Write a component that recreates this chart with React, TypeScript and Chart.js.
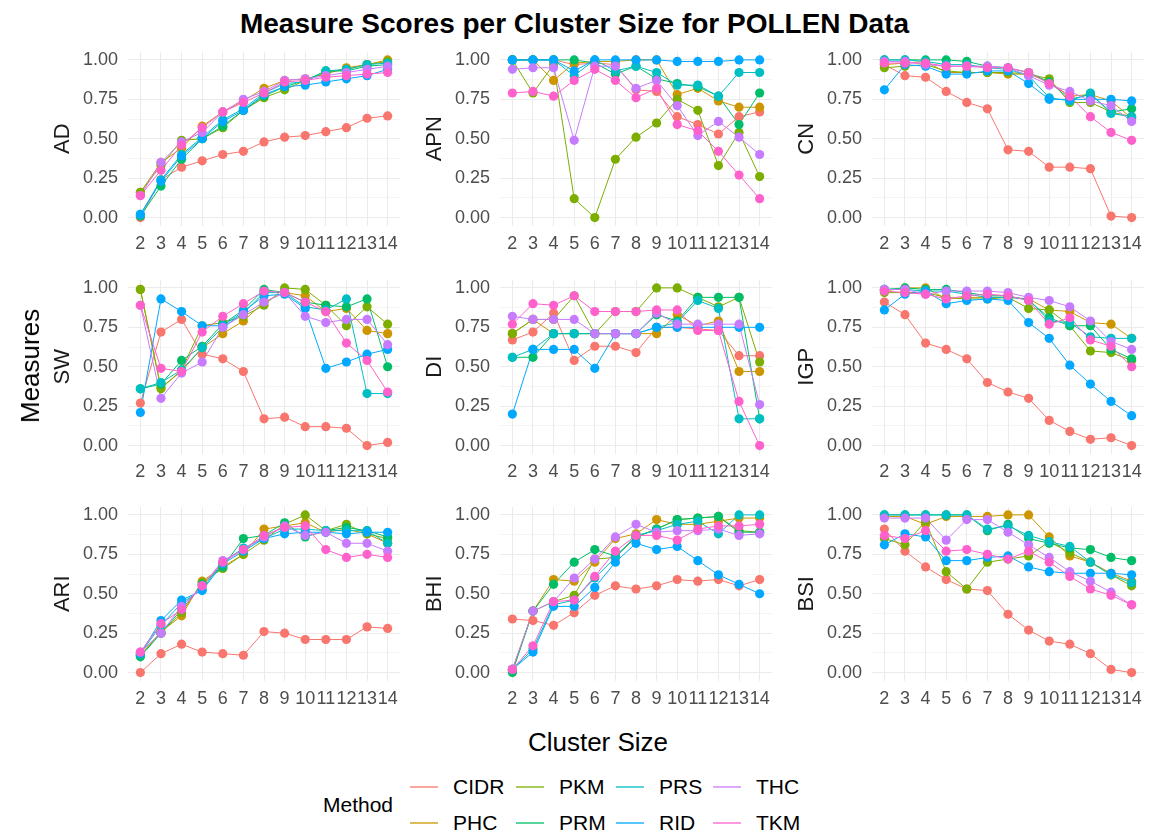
import React, { useEffect, useRef } from 'react';
import { Chart, registerables } from 'chart.js';

Chart.register(...registerables);

const FONT = '"Liberation Sans", Arial, Helvetica, sans-serif';
Chart.defaults.font.family = FONT;

// ---------- data ----------
const clusterSizes = [2, 3, 4, 5, 6, 7, 8, 9, 10, 11, 12, 13, 14];
const methods = ['CIDR', 'PHC', 'PKM', 'PRM', 'PRS', 'RID', 'THC', 'TKM'];
const methodColors = ['#F8766D', '#CD9600', '#7CAE00', '#00BE67', '#00BFC4', '#00A9FF', '#C77CFF', '#FF61CC'];
const measureNames = ['AD', 'APN', 'CN', 'SW', 'DI', 'IGP', 'ARI', 'BHI', 'BSI'];
const yMajorTicks = [0, 0.25, 0.5, 0.75, 1];
const yMinorTicks = [0.125, 0.375, 0.625, 0.875];

// rows in the order of `methods`
const AD = [
  [0.00, 0.24, 0.32, 0.36, 0.40, 0.42, 0.48, 0.51, 0.52, 0.545, 0.57, 0.63, 0.645],
  [0.16, 0.35, 0.44, 0.58, 0.67, 0.74, 0.82, 0.87, 0.88, 0.91, 0.95, 0.97, 1.00],
  [0.16, 0.33, 0.49, 0.50, 0.57, 0.68, 0.76, 0.81, 0.87, 0.92, 0.94, 0.97, 0.99],
  [0.01, 0.20, 0.37, 0.50, 0.58, 0.68, 0.77, 0.83, 0.87, 0.93, 0.93, 0.96, 0.97],
  [0.02, 0.24, 0.40, 0.51, 0.62, 0.69, 0.79, 0.85, 0.86, 0.93, 0.94, 0.97, 0.98],
  [0.02, 0.23, 0.39, 0.50, 0.61, 0.68, 0.78, 0.83, 0.84, 0.86, 0.88, 0.90, 0.94],
  [0.14, 0.35, 0.48, 0.54, 0.67, 0.75, 0.80, 0.87, 0.88, 0.90, 0.92, 0.94, 0.96],
  [0.14, 0.30, 0.46, 0.57, 0.67, 0.73, 0.79, 0.86, 0.87, 0.89, 0.90, 0.91, 0.92],
];
const APN = [
  [1.00, 1.00, 1.00, 0.97, 0.98, 0.97, 0.81, 0.80, 0.64, 0.59, 0.53, 0.64, 0.67],
  [1.00, 1.00, 0.87, 0.98, 0.99, 0.99, 1.00, 1.00, 0.78, 0.82, 0.74, 0.70, 0.70],
  [1.00, 0.79, 0.97, 0.12, 0.00, 0.37, 0.51, 0.60, 0.75, 0.68, 0.33, 0.54, 0.26],
  [1.00, 1.00, 1.00, 1.00, 0.98, 0.91, 0.96, 0.88, 0.85, 0.83, 0.77, 0.59, 0.79],
  [1.00, 1.00, 1.00, 0.90, 1.00, 0.93, 0.96, 0.92, 0.84, 0.84, 0.77, 0.92, 0.92],
  [1.00, 1.00, 1.00, 0.93, 1.00, 1.00, 1.00, 1.00, 0.99, 0.99, 0.99, 1.00, 1.00],
  [0.94, 0.95, 0.95, 0.49, 0.96, 0.96, 0.82, 0.87, 0.71, 0.52, 0.61, 0.51, 0.40],
  [0.79, 0.80, 0.77, 0.87, 0.94, 0.87, 0.76, 0.82, 0.59, 0.55, 0.42, 0.27, 0.12],
];
const CN = [
  [0.97, 0.90, 0.89, 0.80, 0.73, 0.69, 0.43, 0.42, 0.32, 0.32, 0.31, 0.01, 0.00],
  [0.97, 0.98, 0.99, 0.92, 0.92, 0.92, 0.91, 0.91, 0.86, 0.77, 0.78, 0.74, 0.63],
  [0.95, 0.96, 0.97, 0.93, 0.92, 0.92, 0.92, 0.91, 0.88, 0.73, 0.73, 0.67, 0.64],
  [1.00, 1.00, 1.00, 1.00, 0.99, 0.96, 0.95, 0.92, 0.86, 0.75, 0.78, 0.67, 0.69],
  [1.00, 1.00, 0.99, 0.97, 0.97, 0.95, 0.94, 0.90, 0.76, 0.74, 0.79, 0.66, 0.64],
  [0.81, 0.97, 0.96, 0.91, 0.91, 0.93, 0.93, 0.85, 0.75, 0.75, 0.75, 0.75, 0.74],
  [0.99, 0.99, 0.97, 0.96, 0.96, 0.96, 0.95, 0.90, 0.84, 0.80, 0.74, 0.71, 0.61],
  [0.98, 0.98, 0.98, 0.96, 0.96, 0.95, 0.95, 0.92, 0.85, 0.77, 0.64, 0.54, 0.49],
];
const SW = [
  [0.27, 0.72, 0.80, 0.58, 0.55, 0.47, 0.17, 0.18, 0.12, 0.12, 0.11, 0.00, 0.02],
  [0.99, 0.37, 0.47, 0.62, 0.71, 0.79, 0.91, 0.97, 0.95, 0.85, 0.87, 0.73, 0.71],
  [0.99, 0.36, 0.48, 0.76, 0.78, 0.82, 0.89, 1.00, 0.99, 0.89, 0.76, 0.88, 0.77],
  [0.36, 0.39, 0.54, 0.63, 0.77, 0.86, 0.99, 0.97, 0.91, 0.89, 0.88, 0.93, 0.50],
  [0.36, 0.40, 0.48, 0.62, 0.75, 0.84, 0.97, 0.97, 0.88, 0.86, 0.93, 0.33, 0.33],
  [0.21, 0.93, 0.85, 0.76, 0.76, 0.85, 0.95, 0.96, 0.87, 0.49, 0.53, 0.58, 0.61],
  [0.89, 0.30, 0.46, 0.53, 0.75, 0.83, 0.91, 0.97, 0.82, 0.78, 0.80, 0.80, 0.64],
  [0.89, 0.49, 0.47, 0.72, 0.82, 0.90, 0.98, 0.97, 0.91, 0.85, 0.65, 0.54, 0.34],
];
const DI = [
  [0.67, 0.72, 0.84, 0.54, 0.63, 0.63, 0.59, 0.75, 0.75, 0.74, 0.73, 0.57, 0.57],
  [0.71, 0.80, 0.71, 0.71, 0.71, 0.71, 0.71, 0.71, 0.83, 0.76, 0.79, 0.47, 0.47],
  [0.71, 0.80, 0.80, 0.95, 0.71, 0.85, 0.85, 1.00, 1.00, 0.94, 0.88, 0.94, 0.53],
  [0.56, 0.56, 0.71, 0.71, 0.71, 0.71, 0.71, 0.83, 0.79, 0.94, 0.94, 0.94, 0.17],
  [0.56, 0.61, 0.71, 0.71, 0.71, 0.71, 0.71, 0.75, 0.78, 0.92, 0.87, 0.17, 0.17],
  [0.20, 0.61, 0.61, 0.61, 0.49, 0.71, 0.71, 0.75, 0.75, 0.75, 0.75, 0.75, 0.75],
  [0.82, 0.80, 0.80, 0.80, 0.71, 0.71, 0.71, 0.84, 0.77, 0.77, 0.77, 0.77, 0.26],
  [0.77, 0.90, 0.89, 0.95, 0.85, 0.85, 0.85, 0.86, 0.86, 0.73, 0.73, 0.28, 0.00],
];
const IGP = [
  [0.91, 0.83, 0.65, 0.61, 0.55, 0.40, 0.34, 0.30, 0.16, 0.09, 0.04, 0.05, 0.00],
  [0.98, 1.00, 1.00, 0.93, 0.94, 0.94, 0.94, 0.93, 0.86, 0.85, 0.78, 0.77, 0.68],
  [0.97, 0.97, 0.97, 0.94, 0.93, 0.93, 0.94, 0.87, 0.86, 0.76, 0.60, 0.59, 0.54],
  [0.99, 1.00, 0.99, 0.99, 0.97, 0.95, 0.95, 0.92, 0.81, 0.76, 0.76, 0.61, 0.55],
  [0.99, 0.99, 0.98, 0.98, 0.96, 0.94, 0.94, 0.93, 0.79, 0.78, 0.69, 0.68, 0.68],
  [0.86, 0.96, 0.98, 0.90, 0.92, 0.93, 0.92, 0.78, 0.68, 0.51, 0.39, 0.28, 0.19],
  [0.99, 0.99, 0.96, 0.98, 0.98, 0.98, 0.97, 0.94, 0.92, 0.88, 0.79, 0.66, 0.61],
  [0.98, 0.97, 0.96, 0.93, 0.95, 0.96, 0.95, 0.92, 0.77, 0.81, 0.67, 0.63, 0.50],
];
const ARI = [
  [0.00, 0.12, 0.18, 0.13, 0.12, 0.11, 0.26, 0.25, 0.21, 0.21, 0.21, 0.29, 0.28],
  [0.11, 0.26, 0.36, 0.58, 0.67, 0.75, 0.91, 0.93, 0.95, 0.89, 0.91, 0.88, 0.82],
  [0.11, 0.25, 0.38, 0.57, 0.66, 0.75, 0.84, 0.94, 1.00, 0.90, 0.94, 0.88, 0.85],
  [0.10, 0.25, 0.40, 0.56, 0.67, 0.85, 0.87, 0.95, 0.86, 0.90, 0.92, 0.90, 0.86],
  [0.12, 0.30, 0.44, 0.53, 0.70, 0.79, 0.85, 0.91, 0.91, 0.90, 0.90, 0.90, 0.82],
  [0.12, 0.33, 0.46, 0.52, 0.69, 0.77, 0.85, 0.88, 0.89, 0.89, 0.88, 0.89, 0.89],
  [0.13, 0.25, 0.42, 0.55, 0.71, 0.78, 0.86, 0.93, 0.87, 0.89, 0.82, 0.82, 0.77],
  [0.13, 0.31, 0.40, 0.55, 0.70, 0.78, 0.87, 0.92, 0.93, 0.78, 0.73, 0.75, 0.73],
];
const BHI = [
  [0.34, 0.33, 0.30, 0.38, 0.49, 0.55, 0.53, 0.55, 0.59, 0.58, 0.59, 0.55, 0.59],
  [0.02, 0.39, 0.59, 0.58, 0.70, 0.85, 0.88, 0.97, 0.94, 0.94, 0.96, 0.98, 0.98],
  [0.01, 0.39, 0.45, 0.49, 0.72, 0.73, 0.86, 0.91, 0.97, 0.98, 0.99, 0.90, 0.89],
  [0.00, 0.39, 0.56, 0.70, 0.78, 0.74, 0.86, 0.91, 0.97, 0.98, 0.99, 0.89, 0.89],
  [0.02, 0.15, 0.43, 0.46, 0.60, 0.73, 0.87, 0.90, 0.94, 0.96, 0.88, 1.00, 1.00],
  [0.02, 0.13, 0.42, 0.42, 0.54, 0.70, 0.82, 0.78, 0.80, 0.71, 0.62, 0.56, 0.50],
  [0.02, 0.39, 0.45, 0.60, 0.72, 0.86, 0.94, 0.89, 0.90, 0.90, 0.91, 0.87, 0.88],
  [0.02, 0.17, 0.45, 0.46, 0.61, 0.77, 0.87, 0.87, 0.84, 0.91, 0.93, 0.93, 0.94],
];
const BSI = [
  [0.91, 0.77, 0.67, 0.59, 0.53, 0.52, 0.37, 0.27, 0.20, 0.18, 0.12, 0.02, 0.00],
  [0.99, 0.99, 0.94, 0.99, 0.99, 0.99, 1.00, 1.00, 0.86, 0.74, 0.70, 0.63, 0.58],
  [0.85, 0.81, 0.96, 0.64, 0.53, 0.70, 0.72, 0.74, 0.83, 0.76, 0.70, 0.62, 0.55],
  [1.00, 1.00, 1.00, 1.00, 1.00, 0.90, 0.94, 0.85, 0.82, 0.79, 0.78, 0.73, 0.71],
  [1.00, 1.00, 1.00, 1.00, 1.00, 0.91, 0.93, 0.87, 0.83, 0.80, 0.70, 0.62, 0.57],
  [0.81, 0.88, 0.86, 0.71, 0.71, 0.73, 0.74, 0.67, 0.64, 0.63, 0.63, 0.63, 0.62],
  [0.98, 0.98, 0.98, 0.84, 0.97, 0.97, 0.89, 0.81, 0.73, 0.64, 0.58, 0.51, 0.43],
  [0.87, 0.85, 0.90, 0.77, 0.78, 0.75, 0.72, 0.77, 0.70, 0.61, 0.53, 0.49, 0.43],
];
const measureValues = [AD, APN, CN, SW, DI, IGP, ARI, BHI, BSI];

// ---------- layout ----------
const PANEL_LEFTS = [128, 500, 872];
const PANEL_TOPS = [52, 280, 507];
const PANEL_W = 272;
const PANEL_H = 173.5;
const Y_AXIS_W = 88;
const X_AXIS_H = 40.5;
const PAD_TOP = 24;
const PAD_RIGHT = 10;
const CANVAS_W = Y_AXIS_W + PANEL_W + PAD_RIGHT;
const CANVAS_H = PAD_TOP + PANEL_H + X_AXIS_H;

const GRID_COLOR = '#EBEBEB';
const TICK_COLOR = '#4D4D4D';

function isMinor(v: number) {
  return yMinorTicks.some((m) => Math.abs(m - v) < 1e-6);
}

function Panel({ label, values, left, top }: { label: string; values: number[][]; left: number; top: number }) {
  const ref = useRef<HTMLCanvasElement>(null);
  useEffect(() => {
    if (!ref.current) return;
    const lineSets = methods.map((m, i) => ({
      label: m,
      data: clusterSizes.map((x, j) => ({ x, y: values[i][j] })),
      borderColor: methodColors[i],
      backgroundColor: methodColors[i],
      borderWidth: 1,
      pointRadius: 0,
      pointHoverRadius: 0,
      tension: 0,
      fill: false,
      order: 100 + (methods.length - i),
    }));
    const pointSets = methods.map((m, i) => ({
      label: m + ' points',
      data: clusterSizes.map((x, j) => ({ x, y: values[i][j] })),
      showLine: false,
      borderColor: methodColors[i],
      backgroundColor: methodColors[i],
      pointBackgroundColor: methodColors[i],
      pointBorderColor: methodColors[i],
      pointBorderWidth: 0,
      pointRadius: 4.6,
      pointHoverRadius: 4.6,
      order: methods.length - i,
    }));
    const allY = [...yMajorTicks, ...yMinorTicks].sort((a, b) => a - b);
    const chart = new Chart(ref.current, {
      type: 'line',
      data: { datasets: [...lineSets, ...pointSets] as any },
      options: {
        animation: false,
        responsive: false,
        maintainAspectRatio: false,
        events: [],
        layout: { padding: { left: 0, top: PAD_TOP, right: PAD_RIGHT, bottom: 0 } },
        plugins: { legend: { display: false }, tooltip: { enabled: false }, title: { display: false } },
        scales: {
          x: {
            type: 'linear',
            min: 1.4,
            max: 14.6,
            afterBuildTicks: (axis: any) => {
              axis.ticks = clusterSizes.map((v) => ({ value: v }));
            },
            afterFit: (axis: any) => {
              axis.height = X_AXIS_H;
            },
            ticks: {
              autoSkip: false,
              maxRotation: 0,
              minRotation: 0,
              padding: 8,
              color: TICK_COLOR,
              font: { size: 18, family: FONT },
              callback: (v: any) => String(v),
            },
            grid: { color: GRID_COLOR, lineWidth: 1, drawTicks: false },
            border: { display: false },
          },
          y: {
            type: 'linear',
            min: -0.05,
            max: 1.05,
            afterBuildTicks: (axis: any) => {
              axis.ticks = allY.map((v) => ({ value: v }));
            },
            afterFit: (axis: any) => {
              axis.width = Y_AXIS_W;
            },
            ticks: {
              autoSkip: false,
              padding: 10,
              color: TICK_COLOR,
              font: { size: 18, family: FONT },
              callback: (v: any) => (isMinor(Number(v)) ? '' : Number(v).toFixed(2)),
            },
            grid: {
              color: GRID_COLOR,
              drawTicks: false,
              lineWidth: (ctx: any) => (ctx && ctx.tick && isMinor(ctx.tick.value) ? 0.5 : 1),
            },
            border: { display: false },
            title: {
              display: true,
              text: label,
              color: '#1A1A1A',
              font: { size: 22, family: FONT },
              padding: { top: 10, bottom: 0 },
            },
          },
        },
      },
    });
    return () => chart.destroy();
  }, [label, values]);
  return (
    <canvas
      ref={ref}
      width={CANVAS_W}
      height={CANVAS_H}
      style={{ position: 'absolute', left, top, width: CANVAS_W, height: CANVAS_H }}
    />
  );
}

const LEGEND_KEY_X = [410, 516, 616, 713];
const LEGEND_ROW_Y = [786.5, 823];

export default function App() {
  return (
    <div
      style={{
        position: 'absolute',
        left: 0,
        top: 0,
        width: 1149,
        height: 837,
        overflow: 'hidden',
        background: '#FFFFFF',
        fontFamily: FONT,
      }}
    >
      <div
        style={{
          position: 'absolute',
          left: 0,
          top: 8,
          width: 1149,
          textAlign: 'center',
          fontSize: 28,
          fontWeight: 'bold',
          lineHeight: '32px',
          color: '#000000',
          whiteSpace: 'nowrap',
        }}
      >
        Measure Scores per Cluster Size for POLLEN Data
      </div>

      {measureNames.map((name, k) => {
        const r = Math.floor(k / 3);
        const c = k % 3;
        return (
          <Panel
            key={name}
            label={name}
            values={measureValues[k]}
            left={PANEL_LEFTS[c] - Y_AXIS_W}
            top={PANEL_TOPS[r] - PAD_TOP}
          />
        );
      })}

      <div
        style={{
          position: 'absolute',
          left: 30,
          top: 366,
          transform: 'translate(-50%, -50%) rotate(-90deg)',
          fontSize: 26,
          lineHeight: '30px',
          color: '#000000',
          whiteSpace: 'nowrap',
        }}
      >
        Measures
      </div>
      <div
        style={{
          position: 'absolute',
          left: 598,
          top: 742,
          transform: 'translate(-50%, -50%)',
          fontSize: 26,
          lineHeight: '30px',
          color: '#000000',
          whiteSpace: 'nowrap',
        }}
      >
        Cluster Size
      </div>

      <div
        style={{
          position: 'absolute',
          left: 323,
          top: 805 - 12,
          fontSize: 21,
          lineHeight: '24px',
          color: '#000000',
          whiteSpace: 'nowrap',
        }}
      >
        Method
      </div>
      {methods.map((m, i) => {
        const col = Math.floor(i / 2);
        const row = i % 2;
        const kx = LEGEND_KEY_X[col];
        const ky = LEGEND_ROW_Y[row];
        return (
          <React.Fragment key={m}>
            <div
              style={{
                position: 'absolute',
                left: kx,
                top: ky - 1,
                width: 28,
                height: 2,
                background: methodColors[i],
                opacity: 0.65,
              }}
            />
            <div
              style={{
                position: 'absolute',
                left: kx + 43,
                top: ky - 12,
                fontSize: 21,
                lineHeight: '24px',
                color: '#000000',
                whiteSpace: 'nowrap',
              }}
            >
              {m}
            </div>
          </React.Fragment>
        );
      })}
    </div>
  );
}
